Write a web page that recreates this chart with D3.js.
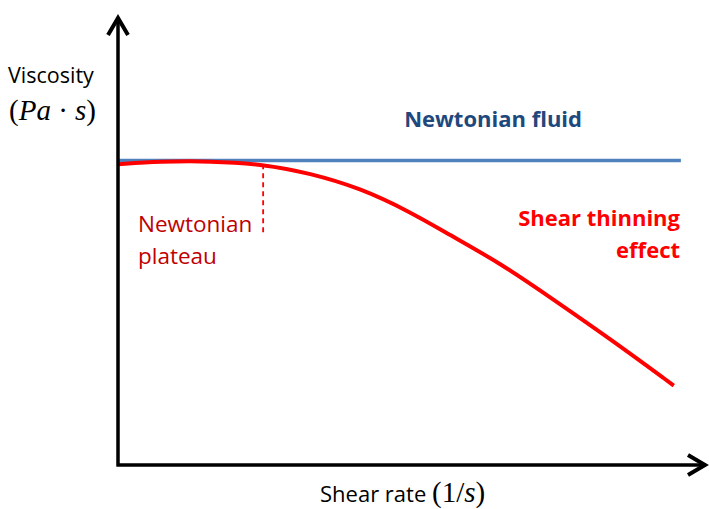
<!DOCTYPE html>
<html>
<head>
<meta charset="utf-8">
<script src="https://cdnjs.cloudflare.com/ajax/libs/d3/7.8.5/d3.min.js"></script>
<style>
  body { margin: 0; background: #fff; }
  text { font-family: "Open Sans", Lato, sans-serif; }
  .math { font-family: "Liberation Serif", "DejaVu Serif", serif; }
</style>
</head>
<body>
<div id="chart"></div>
<script>
// shear rate (arbitrary units) and viscosity of the shear thinning fluid
var shearRate = [0, 7.1, 15.6, 24.6, 32.5, 41.0, 49.5, 56.3, 64.7, 73.2, 83.4, 94.2];
var thinningViscosity = [67.0, 67.6, 67.7, 67.0, 65.0, 61.7, 56.4, 51.2, 45.0, 37.4, 28.1, 17.7];
// newtonian fluid: constant viscosity
var newtonianRate = [0, 95.4];
var newtonianViscosity = [67.8, 67.8];
// end of the newtonian plateau
var plateauRate = [24.6];
var plateauViscosity = [67.0, 51.2];

var width = 709, height = 509;

var x = d3.scaleLinear().domain([0, 100]).range([118, 708]);
var y = d3.scaleLinear().domain([0, 100]).range([465, 16]);

var svg = d3.select('#chart').append('svg')
  .attr('width', width)
  .attr('height', height);

var line = d3.line()
  .x(function (d) { return x(d[0]); })
  .y(function (d) { return y(d[1]); })
  .curve(d3.curveBasis);

// newtonian line
svg.append('path')
  .datum(d3.zip(newtonianRate, newtonianViscosity))
  .attr('d', line)
  .attr('fill', 'none')
  .attr('stroke', '#4F81BD')
  .attr('stroke-width', 3.5);

// shear thinning curve
svg.append('path')
  .datum(d3.zip(shearRate, thinningViscosity))
  .attr('d', line)
  .attr('fill', 'none')
  .attr('stroke', '#FF0000')
  .attr('stroke-width', 4);

// plateau marker
svg.append('line')
  .attr('x1', x(plateauRate[0])).attr('x2', x(plateauRate[0]))
  .attr('y1', y(plateauViscosity[0])).attr('y2', y(plateauViscosity[1]))
  .attr('stroke', '#FF0000')
  .attr('stroke-width', 1.8)
  .attr('stroke-dasharray', '5,4');

// axes with arrows
var x0 = x(0), y0 = y(0);
svg.append('path')
  .attr('d', 'M' + x0 + ',' + (y0 + 1.5) + 'V' + (y(100) + 2) + 'M' + (x0 - 1.5) + ',' + y0 + 'H' + (x(100) - 2))
  .attr('fill', 'none').attr('stroke', '#000').attr('stroke-width', 3.5);
svg.append('path')
  .attr('d', 'M' + (x0 - 10) + ',' + (y(100) + 19) + 'L' + x0 + ',' + (y(100) + 2) + 'L' + (x0 + 10) + ',' + (y(100) + 19))
  .attr('fill', 'none').attr('stroke', '#000').attr('stroke-width', 4);
svg.append('path')
  .attr('d', 'M' + (x(100) - 20) + ',' + (y0 - 10) + 'L' + (x(100) - 3) + ',' + y0 + 'L' + (x(100) - 20) + ',' + (y0 + 10))
  .attr('fill', 'none').attr('stroke', '#000').attr('stroke-width', 4);

// y axis title
svg.append('text').attr('x', 8).attr('y', 83)
  .style('font-size', '21.5px').attr('fill', '#000').text('Viscosity');
var ym = svg.append('text').attr('class', 'math').attr('x', 9).attr('y', 120)
  .style('font-size', '29px').attr('fill', '#000');
ym.append('tspan').text('(');
ym.append('tspan').style('font-style', 'italic').text('Pa');
ym.append('tspan').text(' · ');
ym.append('tspan').style('font-style', 'italic').text('s');
ym.append('tspan').text(')');

// x axis title
var xt = svg.append('text').attr('x', 320).attr('y', 502).attr('fill', '#000');
xt.append('tspan').style('font-size', '22px').text('Shear rate ');
var xm = xt.append('tspan').attr('class', 'math').style('font-size', '29px');
xm.append('tspan').text('(1/');
xm.append('tspan').style('font-style', 'italic').text('s');
xm.append('tspan').text(')');

// labels
svg.append('text').attr('x', 582).attr('y', 127)
  .attr('text-anchor', 'end')
  .style('font-size', '22px').style('font-weight', 'bold')
  .attr('fill', '#1F497D').text('Newtonian fluid');

svg.append('text').attr('x', 680).attr('y', 226)
  .attr('text-anchor', 'end')
  .style('font-size', '22px').style('font-weight', 'bold')
  .attr('fill', '#FF0000').text('Shear thinning');
svg.append('text').attr('x', 680).attr('y', 258)
  .attr('text-anchor', 'end')
  .style('font-size', '22px').style('font-weight', 'bold')
  .attr('fill', '#FF0000').text('effect');

svg.append('text').attr('x', 138).attr('y', 232)
  .style('font-size', '22.5px').attr('fill', '#C00000').text('Newtonian');
svg.append('text').attr('x', 138).attr('y', 264)
  .style('font-size', '22.5px').attr('fill', '#C00000').text('plateau');
</script>
</body>
</html>
